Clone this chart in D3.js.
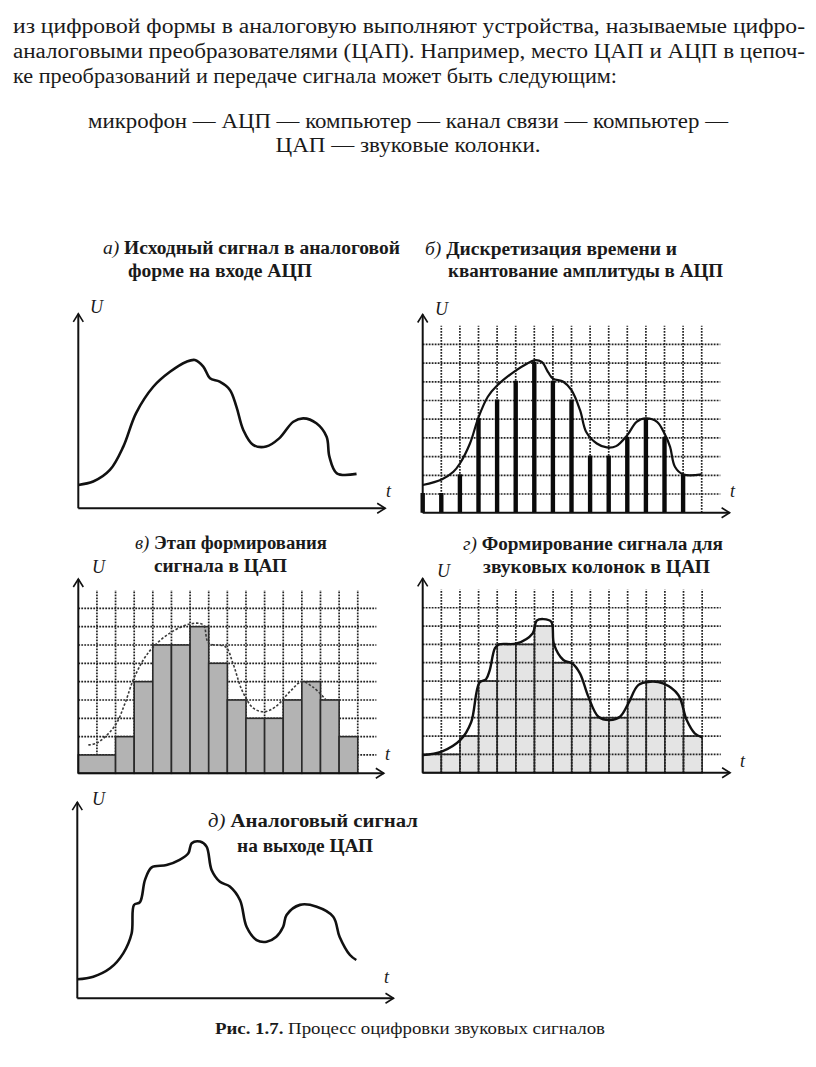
<!DOCTYPE html>
<html><head><meta charset="utf-8">
<script src="https://cdn.jsdelivr.net/npm/d3@7"></script>
<style>body{margin:0;background:#fff}svg{display:block}
text{font-family:"Liberation Serif","Tinos","Times New Roman","DejaVu Serif",serif}</style>
</head><body>
<script>
// ---------- DATA ----------
const textLines = [
  "из цифровой формы в аналоговую выполняют устройства, называемые цифро-",
  "аналоговыми преобразователями (ЦАП). Например, место ЦАП и АЦП в цепоч-",
  "ке преобразований и передаче сигнала может быть следующим:"
];
const chainLines = [
  "микрофон — АЦП — компьютер — канал связи — компьютер —",
  "ЦАП — звуковые колонки."
];
const titleA = ["а)", " Исходный сигнал в аналоговой", "форме на входе АЦП"];
const titleB = ["б)", " Дискретизация времени и", "квантование амплитуды в АЦП"];
const titleV = ["в)", " Этап формирования", "сигнала в ЦАП"];
const titleG = ["г)", " Формирование сигнала для", "звуковых колонок в ЦАП"];
const titleD = ["д)", " Аналоговый сигнал", "на выходе ЦАП"];
const captionBold = "Рис. 1.7.";
const captionText = " Процесс оцифровки звуковых сигналов";

// a) source analog signal
const aT = [0,0.8,1.7,2.42,3.1,4.03,4.93,5.82,6.27,6.72,7.08,7.6,8.15,8.5,8.87,9.4,10.1,10.8,11.56,12.1,12.8,13.35,13.5,13.9,14.96];
const aU = [1.25,1.43,2.05,3.3,5.08,6.5,7.3,7.84,7.93,7.58,6.95,6.77,6.33,5.44,4.19,3.39,3.3,3.74,4.63,4.81,4.55,3.83,2.76,1.87,1.84];
// б) sampled signal
const bT = [0,1.02,1.65,2.0,2.54,3,3.5,4,5,5.6,6,6.4,6.75,7,7.56,8,8.46,8.8,9.36,9.9,10.4,11,11.5,12,12.6,13,13.3,13.56,14,15];
const bU = [1.48,1.78,2.19,2.63,3.7,5.1,6.2,6.8,7.6,7.97,8.15,8.06,7.5,7.17,7.0,6.55,5.48,4.3,3.7,3.49,3.56,4.15,4.86,5.04,4.86,4.23,3.52,2.46,2.05,2.05];
const bSamples = [1,1,2,5,6,7,8,7,6,3,3,4,5,4,2];
// в) DAC staircase
const vStart = [0,2,3,4,5,6,7,8,9,10,11,12,13,14];
const vLevel = [1,2,5,7,7,8,6,4,3,3,4,5,4,2];
const vT = [0.54,1,1.97,2.5,2.95,3.5,4.03,4.92,6,6.7,7,7.9,8.3,8.8,9.4,10,10.6,11.4,12,12.6,13.3];
const vU = [1.55,1.65,2.6,3.8,5.1,6.2,6.9,7.65,8.15,8.1,7.1,6.9,6.0,4.5,3.55,3.36,3.64,4.5,5,4.7,4.0];
// г) smoothed staircase
const gLevel = [1,1,2,5,7,7,8,6,4,3,3,4,5,4,2];
const gT = [0,1.02,2.04,2.6,3.04,3.4,3.6,3.88,4.1,5.04,5.9,6.12,6.48,6.9,7.05,7.55,8.03,8.44,8.89,9.43,10.05,10.59,11.04,11.57,12.2,12.9,13.72,14.17,14.6,15];
const gU = [0.96,1.15,1.8,2.75,4.9,5.1,5.6,6.8,7.0,7.05,7.6,8.3,8.38,8.24,7.0,6.15,5.96,5.42,4.15,3.05,2.87,3.05,3.78,4.78,4.96,4.87,4.24,2.87,2.15,1.93];
// д) analog output
const dT = [0,0.86,1.76,2.47,2.92,3.05,3.37,3.64,4.0,4.8,5.5,5.97,6.15,6.6,6.95,7.22,7.67,8.2,8.75,9.1,9.64,10.18,10.7,11.07,11.25,11.97,12.87,13.76,14.1,14.66,15.0];
const dU = [1.03,1.17,1.62,2.43,3.5,5.05,5.2,6.4,7.08,7.2,7.48,7.84,8.38,8.47,8.2,6.94,6.3,6.04,5.3,3.87,3.15,3.06,3.33,3.87,4.5,5.05,4.95,4.41,3.33,2.34,2.07];

// ---------- DRAW ----------
const W = 816, H = 1067;
const svg = d3.select("body").append("svg").attr("width", W).attr("height", H);
const ink = "#1a1a1a";

// paragraph
const para = svg.append("g").attr("font-size", 20).attr("fill", ink);
const paraBase = [33, 58, 83];
textLines.forEach((s, i) => {
  const t = para.append("text").attr("x", 13).attr("y", paraBase[i]).text(s);
  t.attr("textLength", i < 2 ? 792 : 604).attr("lengthAdjust", "spacingAndGlyphs");
});
const chainBase = [128, 152];
const chainLen = [640, 265];
chainLines.forEach((s, i) => {
  para.append("text").attr("x", 408).attr("y", chainBase[i]).attr("text-anchor", "middle")
    .attr("textLength", chainLen[i]).attr("lengthAdjust", "spacingAndGlyphs").text(s);
});

function line(x, y) {
  return d3.line().x(d => x(d[0])).y(d => y(d[1])).curve(d3.curveCatmullRom.alpha(0.5));
}
function zip(t, u) { return t.map((v, i) => [v, u[i]]); }

function panel(o) {
  const x = d3.scaleLinear().domain([0, 15]).range([o.ox, o.ox + 15 * o.cw]);
  const y = d3.scaleLinear().domain([0, 9]).range([o.oy, o.oy - 9 * o.ch]);
  const g = svg.append("g");
  return {x, y, g};
}
function gridLayer(p) {
  const gg = p.g.append("g").attr("stroke", "#222").attr("stroke-width", 1.7).attr("stroke-dasharray", "1.8,1.2");
  d3.range(1, 16).forEach(i => gg.append("line").attr("x1", p.x(i)).attr("x2", p.x(i)).attr("y1", p.y(0)).attr("y2", p.y(10)));
  d3.range(1, 10).forEach(j => gg.append("line").attr("x1", p.x(0)).attr("x2", p.x(16)).attr("y1", p.y(j)).attr("y2", p.y(j)));
}
function axes(p, yTopL, xEndT, uPos, tPos) {
  const a = p.g.append("g").attr("stroke", "#111").attr("stroke-width", 2).attr("fill", "none");
  const x0 = p.x(0), y0 = p.y(0), yt = p.y(yTopL), xe = p.x(xEndT);
  a.append("line").attr("x1", x0).attr("x2", x0).attr("y1", y0).attr("y2", yt);
  a.append("line").attr("x1", x0).attr("x2", xe).attr("y1", y0).attr("y2", y0);
  a.append("path").attr("stroke-width", 1.6).attr("d", `M${x0-5},${yt+8}L${x0},${yt}L${x0+5},${yt+8}`);
  a.append("path").attr("stroke-width", 1.6).attr("d", `M${xe-8},${y0-5}L${xe},${y0}L${xe-8},${y0+5}`);
  p.g.append("text").attr("x", uPos[0]).attr("y", uPos[1]).attr("font-style", "italic").attr("font-size", 18).attr("fill", ink).text("U");
  p.g.append("text").attr("x", tPos[0]).attr("y", tPos[1]).attr("font-style", "italic").attr("font-size", 18).attr("fill", ink).text("t");
}
function title(tt, x1, y1, x2, y2, w1, w2) {
  const t = svg.append("text").attr("x", x1).attr("y", y1).attr("font-size", 18).attr("font-weight", "bold").attr("fill", ink)
    .attr("textLength", w1).attr("lengthAdjust", "spacingAndGlyphs");
  t.append("tspan").attr("font-style", "italic").attr("font-weight", "normal").text(tt[0]);
  t.append("tspan").text(tt[1]);
  svg.append("text").attr("x", x2).attr("y", y2).attr("font-size", 18).attr("font-weight", "bold").attr("fill", ink)
    .attr("textLength", w2).attr("lengthAdjust", "spacingAndGlyphs").text(tt[2]);
}

// Panel а
const pA = panel({ox: 78.3, oy: 508.3, cw: 18.6, ch: 18.7});
axes(pA, 10.4, 16.5, [90, 313], [386, 497]);
pA.g.append("path").attr("d", line(pA.x, pA.y)(zip(aT, aU))).attr("fill", "none").attr("stroke", "#111").attr("stroke-width", 2.6);
title(titleA, 103, 254, 128, 277, 297, 184);

// Panel б
const pB = panel({ox: 422.7, oy: 512.7, cw: 18.6, ch: 18.7});
gridLayer(pB);
pB.g.append("g").selectAll("line").data(bSamples).join("line")
  .attr("x1", (d, i) => pB.x(i)).attr("x2", (d, i) => pB.x(i))
  .attr("y1", pB.y(0)).attr("y2", d => pB.y(d) - 1)
  .attr("stroke", "#0a0a0a").attr("stroke-width", 4.4);
axes(pB, 10.6, 16.5, [435, 315], [730, 497]);
pB.g.append("path").attr("d", line(pB.x, pB.y)(zip(bT, bU))).attr("fill", "none").attr("stroke", "#111").attr("stroke-width", 2.2);
title(titleB, 425, 255, 448, 277, 252, 275);

// Panel в
const pV = panel({ox: 78.3, oy: 773.3, cw: 18.63, ch: 18.33});
gridLayer(pV);
pV.g.append("g").selectAll("rect").data(vLevel).join("rect")
  .attr("x", (d, i) => pV.x(vStart[i]))
  .attr("width", (d, i) => pV.x(i + 1 < vStart.length ? vStart[i + 1] : 15) - pV.x(vStart[i]))
  .attr("y", d => pV.y(d)).attr("height", d => pV.y(0) - pV.y(d))
  .attr("fill", "#b3b3b3").attr("stroke", "#2a2a2a").attr("stroke-width", 1.6);
pV.g.append("path").attr("d", line(pV.x, pV.y)(zip(vT, vU))).attr("fill", "none").attr("stroke", "#3a3a3a").attr("stroke-width", 1.6).attr("stroke-dasharray", "2.5,1.8");
axes(pV, 10.6, 16.4, [92, 573], [385, 760]);
title(titleV, 135, 549, 154, 572, 192, 133);

// Panel г
const pG = panel({ox: 422.7, oy: 772.7, cw: 18.63, ch: 18.33});
pG.g.append("g").selectAll("rect").data(gLevel).join("rect")
  .attr("x", (d, i) => pG.x(i)).attr("width", pG.x(1) - pG.x(0))
  .attr("y", d => pG.y(d)).attr("height", d => pG.y(0) - pG.y(d))
  .attr("fill", "#e4e4e4").attr("stroke", "#333").attr("stroke-width", 1.6);
gridLayer(pG);
pG.g.append("path").attr("d", line(pG.x, pG.y)(zip(gT, gU))).attr("fill", "none").attr("stroke", "#111").attr("stroke-width", 2.4);
axes(pG, 10.6, 16.5, [437, 577], [740, 767]);
title(titleG, 463, 550, 483, 573, 260, 227);

// Panel д
const pD = panel({ox: 77.3, oy: 998.3, cw: 18.6, ch: 18.5});
axes(pD, 10.6, 17.0, [92, 805], [384, 983]);
pD.g.append("path").attr("d", line(pD.x, pD.y)(zip(dT, dU))).attr("fill", "none").attr("stroke", "#111").attr("stroke-width", 2.6);
title(titleD, 208, 827, 237, 852, 210, 136);

// caption
const cap = svg.append("text").attr("x", 215).attr("y", 1034).attr("font-size", 16).attr("fill", ink)
  .attr("textLength", 390).attr("lengthAdjust", "spacingAndGlyphs");
cap.append("tspan").attr("font-weight", "bold").text(captionBold);
cap.append("tspan").text(captionText);
</script>
</body></html>
